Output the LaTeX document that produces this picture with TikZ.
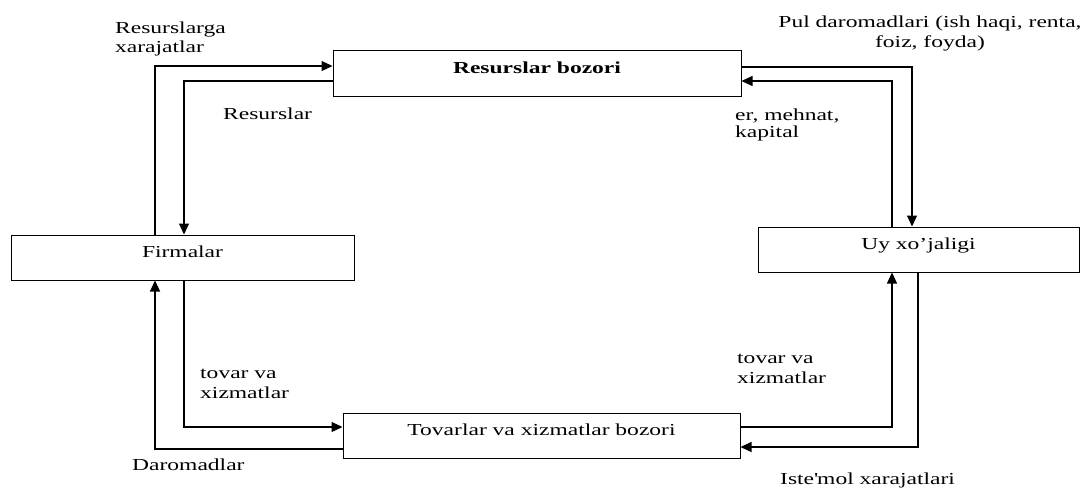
\documentclass[tikz,border=0pt]{standalone}
\usepackage{fontspec}
\setmainfont{Liberation Serif}[FakeStretch=1.4]
\usetikzlibrary{arrows.meta,positioning}

\begin{document}
\begin{tikzpicture}[x=1pt,y=-1pt,
  every node/.style={font=\fontsize{16.8}{20}\selectfont},
  box/.style={draw=black, line width=1pt, inner sep=0pt, text height=12pt, text depth=12pt},
  lbl/.style={inner sep=0pt, align=left, anchor=base west},
  flow/.style={line width=1.1pt, -{Triangle[length=11pt,width=10pt]}}]
\useasboundingbox (0,0) rectangle (1089,488);
% markets and sectors
\node[box, minimum width=408pt, minimum height=46pt](res) at (537,73) {\textbf{Resurslar bozori}};
\node[box, minimum width=343pt, minimum height=45pt](firm) at (182.5,257.5) {Firmalar};
\node[box, minimum width=321pt, minimum height=45pt](uy) at (918.5,249.5) {Uy xo’jaligi};
\node[box, minimum width=397pt, minimum height=45pt](tov) at (541.5,435.5) {Tovarlar va xizmatlar bozori};
% flows
\draw[flow] ([xshift=-27.5pt]firm.north) |- ([yshift=7pt]res.west);
\draw[flow] ([yshift=-8pt]res.west) -| ([xshift=1.5pt]firm.north);
\draw[flow] ([yshift=6pt]res.east) -| ([xshift=-6.5pt]uy.north);
\draw[flow] ([xshift=-26.5pt]uy.north) |- ([yshift=-8pt]res.east);
\draw[flow] ([xshift=1.5pt]firm.south) |- ([yshift=8.5pt]tov.west);
\draw[flow] ([yshift=-13.5pt]tov.west) -| ([xshift=-27.5pt]firm.south);
\draw[flow] ([yshift=8.5pt]tov.east) -| ([xshift=-26.5pt]uy.south);
\draw[flow] ([xshift=-0.5pt]uy.south) |- ([yshift=-11.5pt]tov.east);
% labels (base = last line)
\node[lbl](lxar) at (115,52) {Resurslarga\\[-1pt]xarajatlar};
\node[lbl](lres) at (223,119) {Resurslar};
\node[lbl, align=center, anchor=base](lpul) at (930,47) {Pul daromadlari (ish haqi, renta,\\foiz, foyda)};
\node[lbl](lomil) at (735,137.3) {er, mehnat,\\[-3pt]kapital};
\node[lbl](ltov1) at (200,398.3) {tovar va\\xizmatlar};
\node[lbl](ldar) at (132,470.7) {Daromadlar};
\node[lbl](ltov2) at (737,383.3) {tovar va\\xizmatlar};
\node[lbl](liste) at (780,484) {Iste\textquotesingle mol xarajatlari};
\end{tikzpicture}
\end{document}
